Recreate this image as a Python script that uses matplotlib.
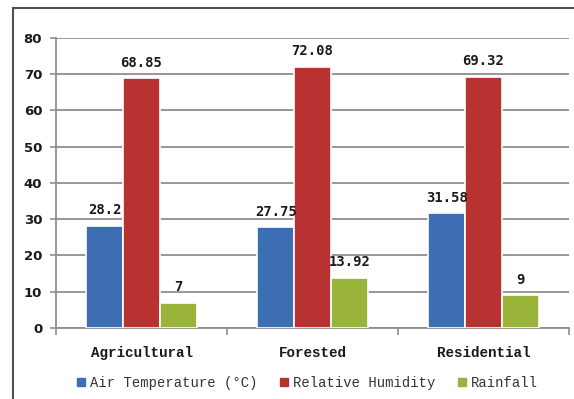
import numpy as np
import matplotlib.pyplot as plt
from matplotlib.lines import Line2D

# data
categories = ['Agricultural', 'Forested', 'Residential']
series_names = ['Air Temperature (\u00b0C)', 'Relative Humidity', 'Rainfall']
air_temp = [28.2, 27.75, 31.58]
humidity = [68.85, 72.08, 69.32]
rainfall = [7, 13.92, 9]
value_labels = [['28.2', '27.75', '31.58'], ['68.85', '72.08', '69.32'], ['7', '13.92', '9']]
colors = ['#3d6db3', '#b83232', '#9ab43a']

fig = plt.figure(figsize=(5.74, 3.99), dpi=100)
ax = fig.add_axes([0.0976, 0.178, 0.8937, 0.727])

x = np.arange(len(categories))
w = 0.215
grid_c = '#8f8f8f'

for i, vals in enumerate([air_temp, humidity, rainfall]):
    pos = x + (i - 1) * w
    ax.bar(pos, vals, width=w, color=colors[i], edgecolor='white', linewidth=1.2, zorder=3)
    for p, v, lab in zip(pos, vals, value_labels[i]):
        ax.annotate(lab, (p, v), xytext=(0, 11), textcoords='offset points',
                    ha='center', va='center', fontsize=10, fontweight='bold',
                    family='DejaVu Sans Mono', color='#1a1a1a', zorder=4)

ax.set_xlim(-0.5, 2.5)
ax.set_ylim(0, 80)
ax.set_yticks(range(0, 81, 10))
ax.yaxis.grid(True, color=grid_c, linewidth=1.3, zorder=0)
ax.set_axisbelow(True)

for s in ['top', 'right']:
    ax.spines[s].set_visible(False)
for s in ['left', 'bottom']:
    ax.spines[s].set_color(grid_c)
    ax.spines[s].set_linewidth(1.3)

# category labels between boundary ticks
ax.set_xticks([-0.5, 0.5, 1.5, 2.5])
ax.set_xticklabels([])
ax.set_xticks(x, minor=True)
ax.set_xticklabels(categories, minor=True, fontsize=10.3, fontweight='bold',
                   family='Liberation Mono', color='#1a1a1a')
ax.tick_params(axis='x', which='major', length=5, width=1.2, color=grid_c, direction='out')
ax.tick_params(axis='x', which='minor', length=0, pad=13)
ax.tick_params(axis='y', length=4, width=1.2, color=grid_c, pad=6)
for t in ax.get_yticklabels():
    t.set_fontsize(9.5)
    t.set_fontweight('bold')
    t.set_color('#1a1a1a')

# legend
handles = [Line2D([], [], marker='s', linestyle='none', markersize=5.5, color=c) for c in colors]
fig.legend(handles, series_names, loc='center', bbox_to_anchor=(0.535, 0.04), ncol=3,
           frameon=False, prop={'family': 'Liberation Mono', 'size': 10},
           handlelength=0.6, handletextpad=0.35, columnspacing=1.6, labelcolor='#333333')

# outer frame, clipped by the image edge
fx = 13 / 574
fy = 1 - 8 / 399
fig.add_artist(Line2D([fx, 1], [fy, fy], color='#505050', linewidth=1.5, transform=fig.transFigure))
fig.add_artist(Line2D([fx, fx], [0, fy], color='#505050', linewidth=1.5, transform=fig.transFigure))

fig.savefig('out.png', dpi=100)
